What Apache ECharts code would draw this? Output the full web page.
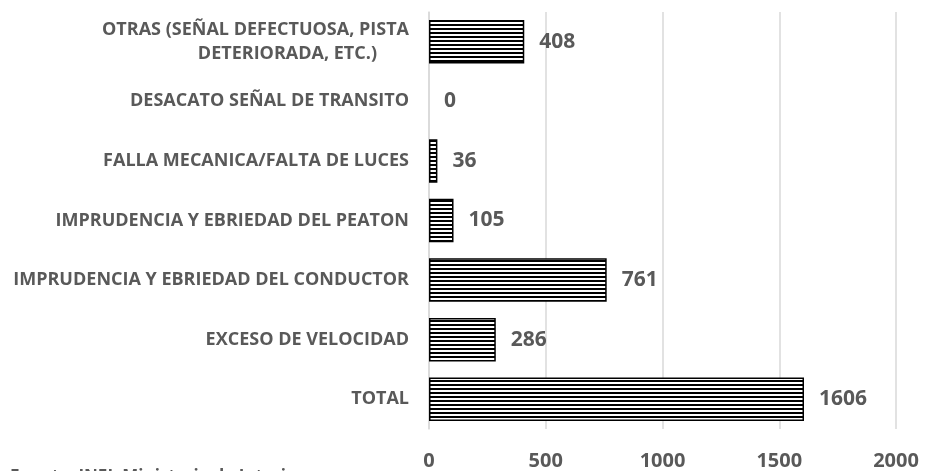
<!DOCTYPE html>
<html>
<head>
<meta charset="utf-8">
<script src="https://cdn.jsdelivr.net/npm/echarts@6/dist/echarts.min.js"></script>
<style>
  html, body { margin: 0; padding: 0; background: #fff; }
  #chart { width: 933px; height: 471px; }
</style>
</head>
<body>
<div id="chart"></div>
<script>
// categories listed bottom to top (category y axis starts at the bottom)
const categories = [
  'TOTAL',
  'EXCESO DE VELOCIDAD',
  'IMPRUDENCIA Y EBRIEDAD DEL CONDUCTOR',
  'IMPRUDENCIA Y EBRIEDAD DEL PEATON',
  'FALLA MECANICA/FALTA DE LUCES',
  'DESACATO SEÑAL DE TRANSITO',
  'OTRAS (SEÑAL DEFECTUOSA, PISTA DETERIORADA, ETC.)',
]
const values = [1606, 286, 761, 105, 36, 0, 408]
const xTicks = [0, 500, 1000, 1500, 2000]
const sourceNote = 'Fuente: INEI, Ministerio de Interior'

const textColor = '#595959'
const fontFamily = '"Open Sans", sans-serif'

// horizontal stripe fill
const makeStripes = () => {
  const c = document.createElement('canvas')
  c.width = 8
  c.height = 4
  const ctx = c.getContext('2d')
  ctx.fillStyle = '#fff'
  ctx.fillRect(0, 0, 8, 4)
  ctx.fillStyle = '#000'
  ctx.fillRect(0, 0, 8, 2)
  return c
}

const chart = echarts.init(document.getElementById('chart'), null, { renderer: 'canvas' })

const labelStyle = { color: textColor, fontFamily: fontFamily, fontWeight: 'bold', fontSize: 18, lineHeight: 24 }

chart.setOption({
  animation: false,
  grid: { left: 429, right: 37, top: 12, bottom: 42 },
  xAxis: {
    type: 'value',
    min: xTicks[0],
    max: xTicks[xTicks.length - 1],
    interval: 500,
    axisLine: { show: false },
    axisTick: { show: false },
    splitLine: { show: true, lineStyle: { color: '#d9d9d9', width: 1.5 } },
    axisLabel: {
      margin: 22,
      color: textColor,
      fontFamily: fontFamily,
      fontWeight: 'bold',
      fontSize: 20,
      formatter: (v) => String(v),
    },
  },
  yAxis: {
    type: 'category',
    data: categories,
    axisLine: { show: true, lineStyle: { color: '#d9d9d9', width: 1.5 } },
    axisTick: { show: false },
    axisLabel: {
      margin: 20,
      ...labelStyle,
      formatter: (value) => {
        if (value.startsWith('OTRAS')) {
          return '{a|OTRAS (SEÑAL DEFECTUOSA, PISTA}\n{b|DETERIORADA, ETC.)}'
        }
        return value
      },
      rich: {
        a: { ...labelStyle },
        b: { ...labelStyle, padding: [0, 32, 0, 0] },
      },
    },
  },
  series: [
    {
      type: 'bar',
      // zero-height bars get no outline
      data: values.map((v) => (v === 0 ? { value: v, itemStyle: { borderWidth: 0 } } : v)),
      barWidth: '73%',
      itemStyle: {
        color: { image: makeStripes(), repeat: 'repeat' },
        borderColor: '#000',
        borderWidth: 1.5,
      },
      label: {
        show: true,
        position: 'right',
        distance: 15,
        color: textColor,
        fontFamily: fontFamily,
        fontWeight: 'bold',
        fontSize: 21,
      },
    },
  ],
  graphic: [
    {
      type: 'text',
      left: 10,
      top: 469,
      style: {
        text: sourceNote,
        fill: textColor,
        font: 'bold 17px ' + fontFamily,
      },
    },
  ],
})
</script>
</body>
</html>
